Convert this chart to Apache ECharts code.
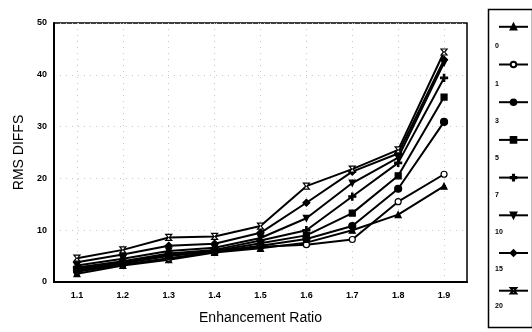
<!DOCTYPE html>
<html>
<head>
<meta charset="utf-8">
<script src="https://cdn.jsdelivr.net/npm/echarts@6/dist/echarts.min.js"></script>
<style>
  html, body { margin: 0; padding: 0; background: #fff; }
  #chart { width: 532px; height: 332px; }
</style>
</head>
<body>
<div id="chart"></div>
<script>
// data
var ratios = ['1.1', '1.2', '1.3', '1.4', '1.5', '1.6', '1.7', '1.8', '1.9'];
var seriesNames = ['0', '1', '3', '5', '7', '10', '15', '20'];
var s0  = [1.6, 3.2, 4.3, 5.7, 6.5, 7.6, 10.0, 13.0, 18.5];
var s1  = [2.0, 3.4, 4.6, 5.8, 6.8, 7.2, 8.2, 15.5, 20.8];
var s3  = [2.2, 3.6, 5.0, 5.9, 7.0, 8.3, 10.8, 18.0, 30.9];
var s5  = [2.5, 3.8, 5.2, 6.0, 7.5, 9.0, 13.3, 20.5, 35.7];
var s7  = [2.8, 4.0, 5.5, 6.2, 8.0, 10.0, 16.5, 23.0, 39.4];
var s10 = [3.2, 4.5, 6.0, 6.6, 8.5, 12.3, 19.1, 24.0, 42.3];
var s15 = [3.8, 5.3, 7.0, 7.4, 9.5, 15.3, 21.3, 24.8, 42.9];
var s20 = [4.6, 6.2, 8.6, 8.8, 10.8, 18.5, 21.8, 25.5, 44.4];
var yTicks = [0, 10, 20, 30, 40, 50];

var allValues = [s0, s1, s3, s5, s7, s10, s15, s20];
var markers = [
    { symbol: 'triangle', size: 6, fill: '#000' },
    { symbol: 'circle', size: 6, fill: '#fff' },
    { symbol: 'circle', size: 7, fill: '#000' },
    { symbol: 'rect', size: 6, fill: '#000' },
    { symbol: 'path://M4,0L6,0L6,4L10,4L10,6L6,6L6,10L4,10L4,6L0,6L0,4L4,4Z', size: 7, fill: '#000' },
    { symbol: 'path://M0,0L10,0L5,9Z', size: 6, fill: '#000' },
    { symbol: 'diamond', size: 7, fill: '#000' },
    { symbol: 'path://M0,0L10,0L6,5L10,10L0,10L4,5Z', size: 6, fill: '#fff' }
];

var chart = echarts.init(document.getElementById('chart'));

var series = seriesNames.map(function (name, i) {
    return {
        name: name,
        type: 'line',
        data: allValues[i],
        symbol: markers[i].symbol,
        symbolSize: markers[i].size,
        showAllSymbol: true,
        lineStyle: { color: '#000', width: 2 },
        itemStyle: { color: markers[i].fill, borderColor: '#000', borderWidth: 1.2 },
        emphasis: { disabled: true },
        animation: false
    };
});

var legendLabels = seriesNames.map(function (name, i) {
    return {
        type: 'text',
        left: 495,
        top: 43 + i * 37.1,
        style: {
            text: name,
            font: 'bold 7px "Liberation Sans", Arial, sans-serif',
            fill: '#000'
        }
    };
});

var options = {
    backgroundColor: '#fff',
    animation: false,
    grid: {
        left: 54,
        right: 65,
        top: 23,
        bottom: 50,
        show: true,
        borderColor: '#000',
        borderWidth: 1.5
    },
    legend: {
        orient: 'vertical',
        left: 493,
        top: 18,
        itemWidth: 29,
        itemHeight: 7,
        itemGap: 30.1,
        data: seriesNames,
        formatter: function () { return ''; },
        selectedMode: false,
        textStyle: { fontSize: 1 }
    },
    xAxis: {
        type: 'category',
        data: ratios,
        boundaryGap: true,
        name: 'Enhancement Ratio',
        nameLocation: 'middle',
        nameGap: 29,
        nameTextStyle: {
            fontFamily: '"Liberation Sans", Arial, sans-serif',
            fontSize: 14,
            color: '#000'
        },
        axisLine: { lineStyle: { color: '#000', width: 2 } },
        axisTick: { show: false },
        axisLabel: {
            margin: 9,
            fontFamily: '"Liberation Sans", Arial, sans-serif',
            fontWeight: 'bold',
            fontSize: 9,
            color: '#000'
        },
        splitLine: {
            show: true,
            alignWithLabel: true,
            lineStyle: { color: '#c8c8c8', type: [1, 5], width: 1 }
        }
    },
    yAxis: {
        type: 'value',
        min: yTicks[0],
        max: yTicks[yTicks.length - 1],
        interval: 10,
        name: 'RMS DIFFS',
        nameLocation: 'middle',
        nameGap: 22,
        nameTextStyle: {
            fontFamily: '"Liberation Sans", Arial, sans-serif',
            fontSize: 14,
            color: '#000'
        },
        axisLine: { show: true, lineStyle: { color: '#000', width: 2 } },
        axisTick: { show: false },
        axisLabel: {
            margin: 7,
            fontFamily: '"Liberation Sans", Arial, sans-serif',
            fontWeight: 'bold',
            fontSize: 9,
            color: '#000'
        },
        splitLine: {
            show: true,
            lineStyle: { color: '#c8c8c8', type: [1, 5], width: 1 }
        }
    },
    graphic: [{
        type: 'rect',
        left: 486,
        top: 7,
        shape: { width: 44, height: 318 },
        style: { fill: 'none', stroke: '#000', lineWidth: 1.5 },
        z: 0
    }].concat(legendLabels),
    series: series
};

chart.setOption(options);
window.addEventListener('resize', chart.resize);
</script>
</body>
</html>
